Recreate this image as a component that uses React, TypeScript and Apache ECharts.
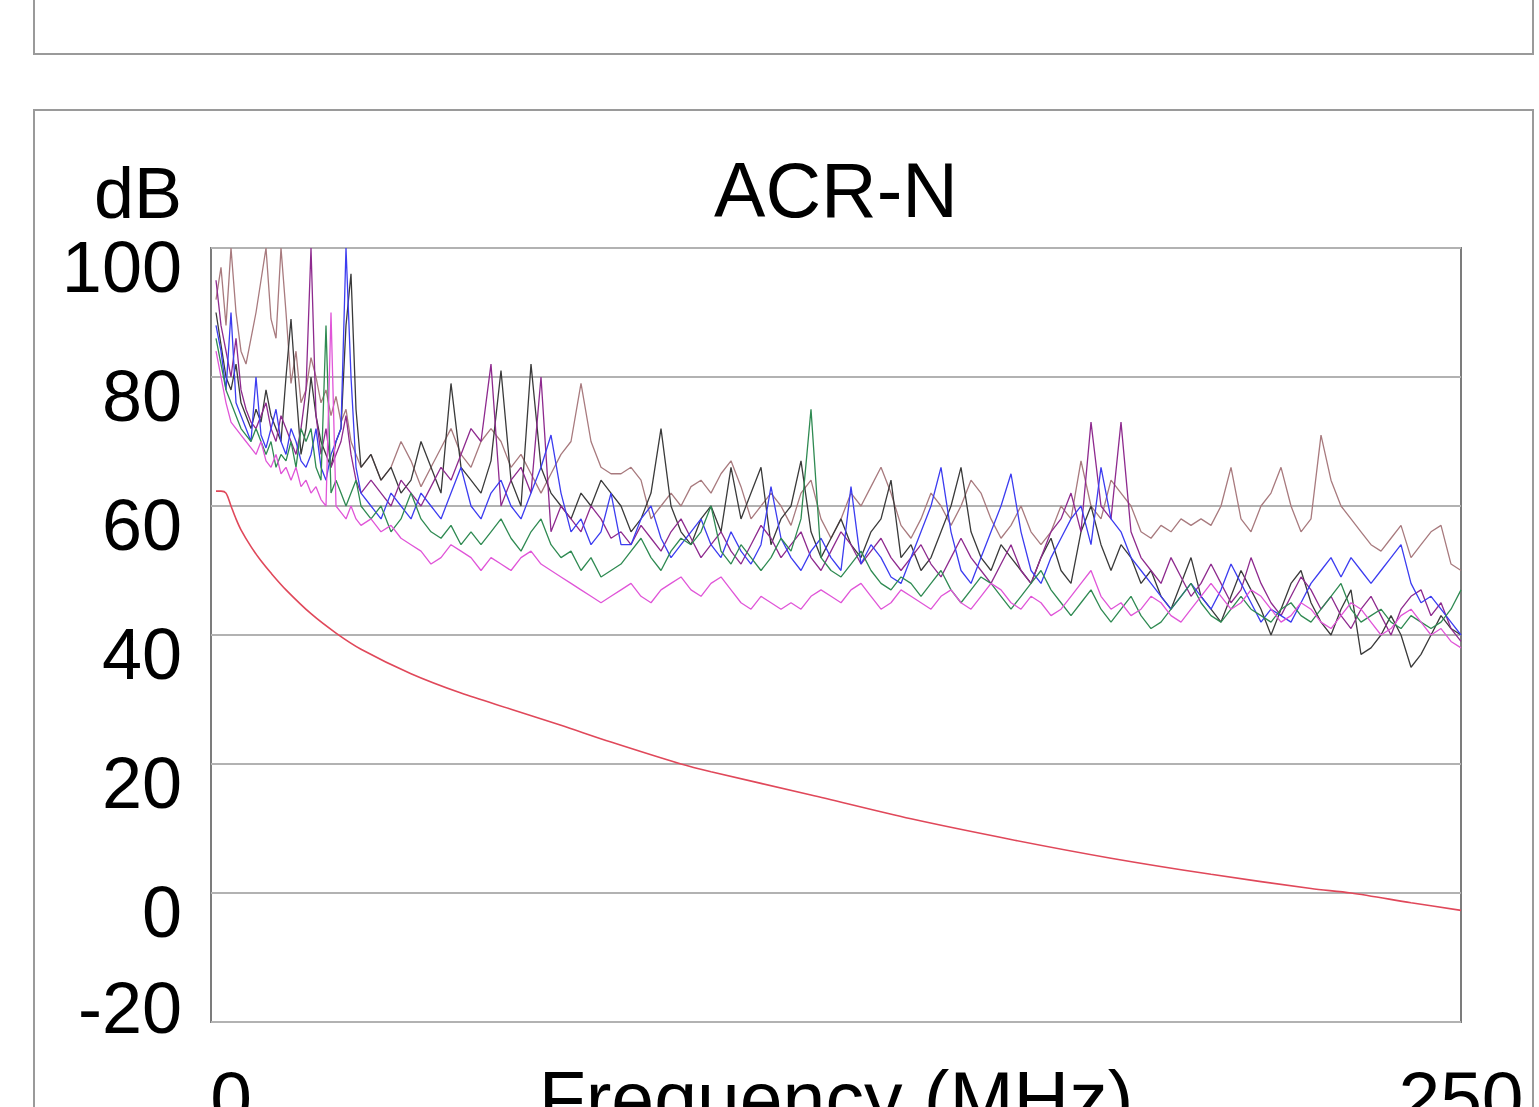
import React, { useEffect, useRef } from "react";
import * as echarts from "echarts";

const FONT = "'Liberation Sans', Arial, sans-serif";

const chartTitle = "ACR-N";
const yName = "dB";
const xName = "Frequency (MHz)";
const yTicks = [-20, 0, 20, 40, 60, 80, 100];
const xTicks = [0, 250];

const freqs = [
  1, 2, 3, 4, 5, 6, 7, 8, 9, 10, 11, 12, 13, 14, 15, 16, 17, 18, 19, 20, 21, 22, 23, 24, 25, 26, 27, 28, 29, 30,
  32, 34, 36, 38, 40, 42, 44, 46, 48, 50, 52, 54, 56, 58, 60, 62, 64, 66, 68, 70, 72, 74, 76, 78, 80,
  82, 84, 86, 88, 90, 92, 94, 96, 98, 100, 102, 104, 106, 108, 110, 112, 114, 116, 118, 120,
  122, 124, 126, 128, 130, 132, 134, 136, 138, 140, 142, 144, 146, 148, 150, 152, 154, 156, 158, 160,
  162, 164, 166, 168, 170, 172, 174, 176, 178, 180, 182, 184, 186, 188, 190, 192, 194, 196, 198, 200,
  202, 204, 206, 208, 210, 212, 214, 216, 218, 220, 222, 224, 226, 228, 230, 232, 234, 236, 238, 240,
  242, 244, 246, 248, 250,
];

const pairRosy = [
  92, 97, 88, 100, 90, 84, 82, 86, 90, 95,
  100, 89, 86, 100, 90, 79, 84, 76, 78, 83,
  80, 76, 78, 74, 77, 73, 75, 70, 68, 66,
  68, 64, 66, 70, 67, 63, 66, 69, 72, 68,
  66, 70, 72, 70, 66, 68, 65, 62, 65, 68,
  70, 79, 70, 66, 65,
  65, 66, 64, 58, 60, 62, 60, 63, 64, 62,
  65, 67, 63, 58, 60, 62, 60, 57, 62, 64,
  58, 55, 58, 62, 60, 63, 66, 62, 57, 55,
  58, 62, 60, 57, 60, 64, 62, 58, 55, 57,
  60, 56, 54, 56, 60, 58, 67, 60, 58, 64,
  62, 60, 56, 55, 57, 56, 58, 57, 58, 57,
  60, 66, 58, 56, 60, 62, 66, 60, 56, 58,
  71, 64, 60, 58, 56, 54, 53, 55, 57, 52,
  54, 56, 57, 51, 50,
];

const pairBlack = [
  90, 85, 80, 78, 82, 76, 74, 72, 75, 73,
  78, 74, 72, 70, 80, 89, 78, 68, 72, 80,
  74, 70, 68, 66, 70, 72, 88, 96, 75, 66,
  68, 64, 66, 62, 64, 70, 66, 62, 79, 66,
  64, 62, 67, 81, 64, 60, 82, 66, 62, 60,
  58, 62, 60, 64, 62,
  60, 56, 58, 62, 72, 60, 56, 54, 58, 60,
  56, 66, 58, 62, 66, 54, 58, 60, 67, 56,
  52, 55, 58, 54, 52, 56, 58, 64, 52, 54,
  50, 52, 56, 60, 66, 56, 52, 50, 54, 52,
  50, 48, 52, 55, 50, 48, 56, 60, 54, 50,
  54, 52, 48, 50, 46, 44, 48, 52, 46, 44,
  42, 46, 50, 47, 44, 40, 44, 48, 50, 45,
  42, 40, 44, 47, 37, 38, 40, 43, 40, 35,
  37, 40, 43, 41, 40,
];

const pairPurple = [
  95, 88, 84, 80, 86, 78, 75, 73, 72, 74,
  76, 72, 70, 74, 72, 70, 68, 72, 78, 100,
  74, 68, 72, 66, 68, 70, 74, 68, 64, 62,
  64, 62, 60, 64, 62, 60, 63, 66, 64, 68,
  72, 70, 82, 60, 64, 66, 62, 80, 56, 60,
  58, 56, 60, 58, 55,
  56, 54, 57, 55, 53, 56, 58, 55, 52, 54,
  56, 53, 51, 54, 57, 55, 52, 54, 56, 52,
  50, 53, 56, 54, 51, 53, 55, 52, 50, 52,
  54, 51, 49, 52, 55, 52, 50, 48, 51, 54,
  50, 48, 52, 56, 58, 62, 56, 73, 60, 58,
  73, 56, 52, 50, 48, 52, 49, 46, 48, 51,
  48, 45, 47, 52, 48, 45, 43, 46, 49, 47,
  44, 46, 43, 41, 44, 46, 43, 40, 44, 46,
  47, 43, 45, 41, 39,
];

const pairBlue = [
  88, 84, 78, 90, 76, 74, 72, 70, 80, 71,
  69, 72, 75, 70, 68, 72, 70, 67, 66, 68,
  72, 66, 64, 68, 70, 72, 100, 80, 66, 62,
  60, 58, 62, 60, 58, 62, 60, 58, 62, 66,
  60, 58, 62, 64, 60, 58, 62, 66, 71, 62,
  56, 58, 54, 56, 62,
  54, 54, 58, 60, 55, 52, 54, 56, 58, 54,
  52, 56, 53, 51, 54, 63, 55, 52, 50, 53,
  55, 52, 50, 63, 51, 54, 52, 49, 48, 52,
  56, 60, 66, 56, 50, 48, 52, 56, 60, 65,
  56, 50, 48, 52, 55, 58, 60, 54, 66, 58,
  56, 52, 50, 48, 46, 44, 46, 48, 46, 44,
  47, 51, 48, 45, 42, 44, 43, 42, 45, 48,
  50, 52, 49, 52, 50, 48, 50, 52, 54, 48,
  45, 46, 44, 42, 40,
];

const pairGreen = [
  86, 82, 78, 76, 74, 72, 71, 70, 72, 70,
  68, 70, 66, 68, 67, 70, 66, 72, 70, 72,
  66, 64, 88, 62, 64, 62, 60, 62, 64, 60,
  58, 60, 56, 58, 62, 58, 56, 55, 57, 54,
  56, 54, 56, 58, 55, 53, 56, 58, 54, 52,
  53, 50, 52, 49, 50,
  51, 53, 55, 52, 50, 53, 55, 54, 56, 60,
  53, 51, 54, 52, 50, 52, 55, 53, 58, 75,
  52, 50, 49, 51, 53, 50, 48, 47, 49, 48,
  46, 48, 50, 47, 45, 47, 49, 48, 46, 44,
  46, 48, 50, 47, 45, 43, 45, 47, 44, 42,
  44, 46, 43, 41, 42, 44, 46, 48, 45, 43,
  42, 44, 46, 44, 43, 42, 44, 45, 43, 42,
  44, 46, 48, 44, 42, 43, 44, 42, 41, 43,
  42, 41, 42, 44, 47,
];

const pairMagenta = [
  84, 80, 76, 73, 72, 71, 70, 69, 68, 70,
  67, 66, 68, 65, 66, 64, 66, 63, 64, 62,
  63, 61, 60, 90, 60, 59, 58, 60, 58, 57,
  58, 56, 57, 55, 54, 53, 51, 52, 54, 53,
  52, 50, 52, 51, 50, 52, 53, 51, 50, 49,
  48, 47, 46, 45, 46,
  47, 48, 46, 45, 47, 48, 49, 47, 46, 48,
  49, 47, 45, 44, 46, 45, 44, 45, 44, 46,
  47, 46, 45, 47, 48, 46, 44, 45, 47, 46,
  45, 44, 46, 47, 45, 44, 46, 48, 47, 45,
  44, 46, 45, 43, 44, 46, 48, 50, 46, 44,
  45, 43, 44, 46, 45, 43, 42, 44, 46, 48,
  46, 44, 45, 47, 46, 44, 42, 43, 45, 44,
  42, 41, 43, 45, 44, 42, 40, 41, 43, 44,
  42, 40, 41, 39, 38,
];

const limitFreqs = [1, 2, 3, 4, 5, 6, 8, 10, 12, 15, 20, 25, 30, 40, 50, 60, 70, 80, 94, 100, 120, 140, 160, 180, 200, 220, 228, 240, 250];
const limitValues = [62.3, 62.3, 62, 60, 58, 56.3, 53.7, 51.5, 49.6, 47, 43.3, 40.3, 37.8, 34, 31, 28.5, 26, 23.4, 20, 18.8, 15.2, 11.5, 8.3, 5.4, 2.9, 0.7, 0, -1.5, -2.7];

const seriesNames = ["Pair 1", "Pair 2", "Pair 3", "Pair 4", "Pair 5", "Pair 6"];
const seriesValues = [pairRosy, pairBlack, pairPurple, pairBlue, pairGreen, pairMagenta];
const seriesColors = ["#a87a7e", "#3a3a3a", "#8e2a8e", "#3c3cf0", "#2f8a52", "#e055d8"];

export default function App() {
  const ref = useRef<HTMLDivElement>(null);

  useEffect(() => {
    if (!ref.current) return;
    const chart = echarts.init(ref.current, null, { renderer: "svg" });

    const noisy = seriesValues.map((vals, si) => ({
      name: seriesNames[si],
      type: "line",
      data: freqs.map((f, i) => [f, vals[i]]),
      showSymbol: false,
      symbol: "none",
      lineStyle: { color: seriesColors[si], width: 1.3 },
      itemStyle: { color: seriesColors[si] },
      z: 3,
    }));

    const option: any = {
      animation: false,
      backgroundColor: "#ffffff",
      textStyle: { fontFamily: FONT },
      title: {
        text: chartTitle,
        left: 831,
        top: 146,
        textAlign: "center",
        textStyle: { fontFamily: FONT, fontSize: 77, fontWeight: "normal", color: "#000" },
      },
      grid: {
        left: 211,
        right: 78,
        top: 248,
        bottom: 85,
        containLabel: false,
        outerBoundsMode: "none",
        show: true,
        borderColor: "#7c7c7c",
        borderWidth: 2,
        backgroundColor: "transparent",
      },
      xAxis: {
        type: "value",
        min: xTicks[0],
        max: xTicks[xTicks.length - 1],
        interval: xTicks[1] - xTicks[0],
        name: xName,
        nameLocation: "middle",
        nameGap: 38,
        nameMoveOverlap: false,
        nameTextStyle: { fontFamily: FONT, fontSize: 77, color: "#000", verticalAlign: "top" },
        axisLine: { show: false },
        axisTick: { show: false },
        splitLine: { show: false },
        axisLabel: {
          margin: 38,
          fontFamily: FONT,
          fontSize: 75,
          color: "#000",
          formatter: (v: number) => (v === xTicks[0] ? `{s|${v}}` : `{n|${v}}`),
          rich: {
            s: { fontFamily: FONT, fontSize: 75, color: "#000", padding: [0, 0, 0, 40] },
            n: { fontFamily: FONT, fontSize: 75, color: "#000" },
          },
        },
      },
      yAxis: {
        type: "value",
        min: yTicks[0],
        max: yTicks[yTicks.length - 1],
        interval: yTicks[1] - yTicks[0],
        name: yName,
        nameLocation: "end",
        nameGap: 55,
        nameTextStyle: {
          fontFamily: FONT,
          fontSize: 72,
          color: "#000",
          align: "right",
          verticalAlign: "middle",
          padding: [0, 29, 0, 0],
        },
        axisLine: { show: false },
        axisTick: { show: false },
        splitLine: { show: true, lineStyle: { color: "#b2b2b2", width: 2 } },
        axisLabel: {
          margin: 29,
          fontFamily: FONT,
          fontSize: 72,
          color: "#000",
          formatter: (v: number) => (v === yTicks[0] ? `{b|${v}}` : `{a|${v}}`),
          rich: {
            a: { fontFamily: FONT, fontSize: 72, color: "#000", padding: [38, 0, 0, 0] },
            b: { fontFamily: FONT, fontSize: 72, color: "#000", padding: [0, 0, 28, 0] },
          },
        },
      },
      graphic: [
        {
          type: "rect",
          shape: { x: 34, y: -20, width: 1499, height: 74 },
          style: { fill: "none", stroke: "#9a9a9a", lineWidth: 2 },
          silent: true,
        },
        {
          type: "rect",
          shape: { x: 34, y: 110, width: 1499, height: 1100 },
          style: { fill: "none", stroke: "#9a9a9a", lineWidth: 2 },
          silent: true,
        },
      ],
      series: [
        ...noisy,
        {
          name: "Limit",
          type: "line",
          data: limitFreqs.map((f, i) => [f, limitValues[i]]),
          smooth: 0.3,
          showSymbol: false,
          symbol: "none",
          lineStyle: { color: "#e0485a", width: 1.6 },
          itemStyle: { color: "#e0485a" },
          z: 4,
        },
      ],
    };

    chart.setOption(option);
    return () => chart.dispose();
  }, []);

  return (
    <div
      ref={ref}
      style={{ position: "absolute", left: 0, top: 0, width: 1539, height: 1107, background: "#fff" }}
    />
  );
}
